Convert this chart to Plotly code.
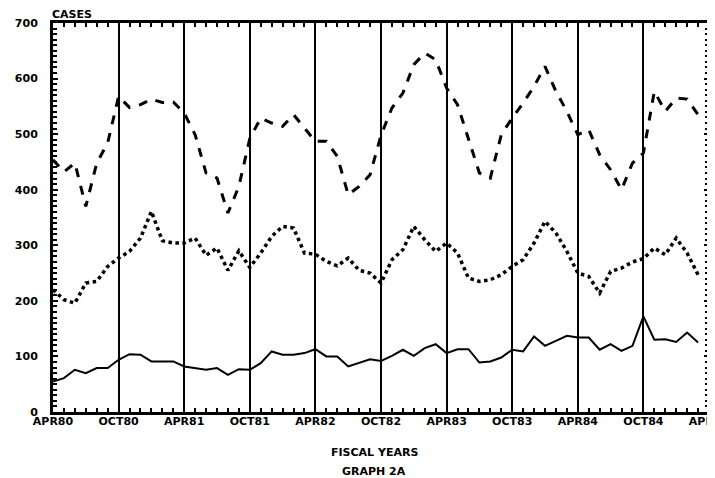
import plotly.graph_objects as go

months = list(range(60))
tick_pos = [0, 6, 12, 18, 24, 30, 36, 42, 48, 54, 60]
tick_labels = ["APR80", "OCT80", "APR81", "OCT81", "APR82", "OCT82",
               "APR83", "OCT83", "APR84", "OCT84", "APR85"]
y_ticks = [0, 100, 200, 300, 400, 500, 600, 700]

series_dashed = [454, 432, 448, 370, 448, 484, 568, 548, 553, 563,
                 557, 558, 538, 499, 430, 421, 358, 406, 492, 529,
                 520, 514, 535, 511, 487, 487, 460, 391, 406, 427,
                 498, 547, 574, 625, 646, 634, 583, 553, 490, 430,
                 421, 499, 529, 556, 586, 622, 577, 541, 499, 508,
                 463, 436, 400, 448, 466, 577, 541, 565, 563, 535]

series_dotted = [220, 202, 196, 232, 235, 262, 277, 289, 313, 361,
                 308, 304, 304, 313, 282, 295, 255, 290, 260, 286,
                 316, 334, 331, 286, 284, 271, 263, 277, 255, 250,
                 232, 274, 292, 334, 310, 289, 304, 286, 241, 235,
                 238, 247, 262, 274, 304, 343, 322, 289, 250, 244,
                 214, 253, 259, 270, 276, 295, 283, 313, 286, 247]

series_solid = [55, 61, 76, 70, 79, 79, 94, 104, 103, 91,
                91, 91, 82, 79, 76, 79, 67, 77, 76, 88,
                109, 103, 103, 106, 113, 100, 100, 82, 88, 95,
                92, 101, 112, 101, 115, 122, 106, 113, 113, 89,
                91, 98, 112, 109, 136, 119, 128, 137, 134, 134,
                112, 122, 110, 119, 172, 130, 131, 126, 143, 125]

FONT = "DejaVu Sans"
FS = 11

fig = go.Figure()
fig.add_trace(go.Scatter(x=months, y=series_dashed, mode="lines",
                         line=dict(color="black", width=3, dash="dash"),
                         showlegend=False))
fig.add_trace(go.Scatter(x=months, y=series_dotted, mode="lines",
                         line=dict(color="black", width=3.5, dash="dot"),
                         showlegend=False))
fig.add_trace(go.Scatter(x=months, y=series_solid, mode="lines",
                         line=dict(color="black", width=2),
                         showlegend=False))

fig.update_layout(
    width=707, height=470,
    margin=dict(l=45, r=6, t=15, b=66, autoexpand=False),
    paper_bgcolor="white", plot_bgcolor="white",
    font=dict(family=FONT, size=FS, color="black", weight="bold"),
    showlegend=False,
)
fig.update_xaxes(
    range=[0, 60], tickvals=tick_pos, ticktext=tick_labels,
    showgrid=True, gridcolor="black", gridwidth=1.5,
    showline=True, linecolor="black", linewidth=3, mirror="allticks",
    ticks="inside", ticklen=5, tickwidth=2, tickcolor="black",
    minor=dict(dtick=1, ticks="inside", ticklen=4, tickwidth=2, tickcolor="black", showgrid=False),
    zeroline=False, tickfont=dict(family=FONT, size=FS, weight="bold"),
    ticklabelstandoff=-3, ticklabeloverflow="allow", automargin=False,
    title=None,
)
fig.update_yaxes(
    range=[0, 700], tickvals=y_ticks,
    showgrid=False,
    showline=True, linecolor="black", linewidth=3, mirror="allticks",
    ticks="inside", ticklen=5, tickwidth=2, tickcolor="black",
    minor=dict(dtick=10, ticks="inside", ticklen=4, tickwidth=2, tickcolor="black", showgrid=False),
    zeroline=False, tickfont=dict(family=FONT, size=FS, weight="bold"),
    ticklabelstandoff=10, automargin=False,
)

fig.add_annotation(text="CASES", xref="paper", yref="paper", x=-0.005, y=1,
                   xanchor="left", yanchor="bottom", showarrow=False,
                   font=dict(family=FONT, size=FS, weight="bold"), yshift=0)
fig.add_annotation(text="FISCAL YEARS", xref="paper", yref="paper", x=0.49, y=-0.103,
                   xanchor="center", yanchor="middle", showarrow=False,
                   font=dict(family=FONT, size=FS, weight="bold"))
fig.add_annotation(text="GRAPH 2A", xref="paper", yref="paper", x=0.49, y=-0.154,
                   xanchor="center", yanchor="middle", showarrow=False,
                   font=dict(family=FONT, size=FS, weight="bold"))

fig.write_html("out.html")
